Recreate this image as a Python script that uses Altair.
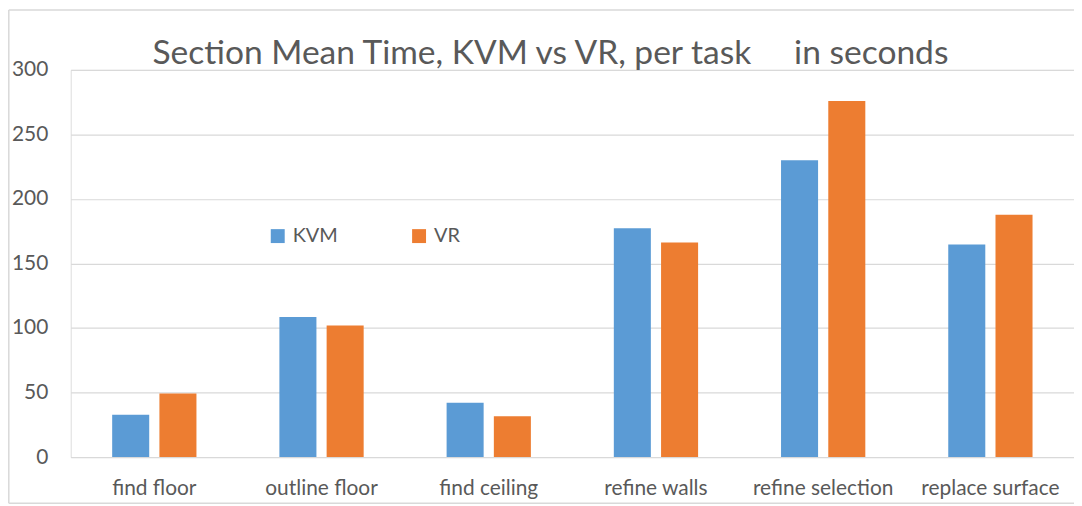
import altair as alt
import pandas as pd

tasks = ["find floor", "outline floor", "find ceiling", "refine walls", "refine selection", "replace surface"]
kvm = [32.7, 108.6, 42.0, 177.3, 230.0, 164.7]
vr = [49.2, 101.9, 31.6, 166.3, 275.9, 187.8]
series = ["KVM", "VR"]
colors = ["#5b9bd5", "#ed7d31"]
y_ticks = [0, 50, 100, 150, 200, 250, 300]
title_text = "Section Mean Time, KVM vs VR, per task\u00a0\u00a0\u00a0\u00a0 in seconds"

rows = []
for t, a, b in zip(tasks, kvm, vr):
    rows.append({"task": t, "series": "KVM", "value": a})
    rows.append({"task": t, "series": "VR", "value": b})
df = pd.DataFrame(rows)

FONT = "Lato"
GREY = "#595959"

bars = alt.Chart(df).mark_bar().encode(
    x=alt.X("task:N", sort=tasks, title=None,
            scale=alt.Scale(paddingInner=0.496, paddingOuter=0.248),
            axis=alt.Axis(labelAngle=0, labelFontSize=21, labelFont=FONT, labelColor=GREY,
                          ticks=False, tickSize=0, domain=False, labelPadding=38,
                          labelBaseline="alphabetic", grid=False)),
    xOffset=alt.XOffset("series:N", sort=series,
                        scale=alt.Scale(paddingInner=0.216, paddingOuter=0)),
    y=alt.Y("value:Q", title=None,
            scale=alt.Scale(domain=[0, 300], nice=False),
            axis=alt.Axis(values=y_ticks, labelFontSize=21, labelFont=FONT, labelColor=GREY,
                          ticks=False, domain=False, labelPadding=23,
                          gridColor="#d9d9d9", gridWidth=1.2)),
    color=alt.Color("series:N", sort=series, title=None,
                    scale=alt.Scale(domain=series, range=colors),
                    legend=alt.Legend(orient="none", legendX=198, legendY=157,
                                      direction="horizontal", symbolType="square",
                                      symbolSize=196, symbolStrokeWidth=0,
                                      labelFontSize=20, labelFont=FONT, labelColor=GREY,
                                      labelOffset=5, columnPadding=71, padding=0)),
)

title = alt.Chart(pd.DataFrame({"t": [title_text]})).mark_text(
    font=FONT, fontSize=33.7, color=GREY, align="center", baseline="alphabetic"
).encode(text="t:N", x=alt.value(482), y=alt.value(-6.3))

frame = pd.DataFrame({"a": [0]})
left_edge = alt.Chart(frame).mark_rule(color="#d9d9d9", strokeWidth=1.5).encode(
    x=alt.value(-62.2), y=alt.value(-60.2), y2=alt.value(435.5))
top_edge = alt.Chart(frame).mark_rule(color="#d9d9d9", strokeWidth=1.5).encode(
    x=alt.value(-62.2), x2=alt.value(1100), y=alt.value(-60.2))
bottom_edge = alt.Chart(frame).mark_rule(color="#d9d9d9", strokeWidth=1.5).encode(
    x=alt.value(-62.2), x2=alt.value(1100), y=alt.value(435.5))

chart = alt.layer(left_edge, top_edge, bottom_edge, bars, title).properties(
    width=1008, height=389,
    autosize=alt.AutoSizeParams(type="none"),
    padding={"left": 63, "top": 61, "right": 0, "bottom": 48},
).configure_view(stroke=None).configure(background="white")

chart.save("out.html", embed_options={"renderer": "svg", "actions": False})
